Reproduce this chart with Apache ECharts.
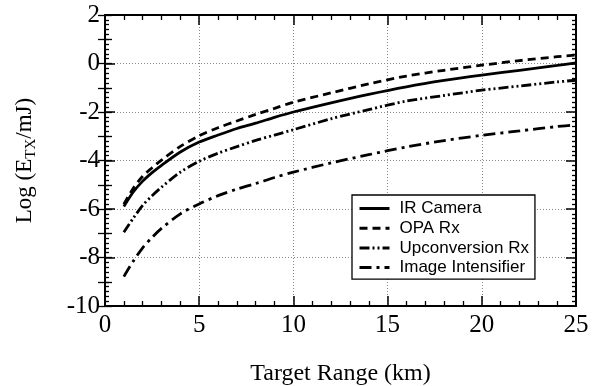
<!DOCTYPE html>
<html>
<head>
<meta charset="utf-8">
<script src="https://cdn.jsdelivr.net/npm/echarts@6/dist/echarts.min.js"></script>
<style>
  html, body { margin: 0; padding: 0; background: #fff; }
  #chart { width: 594px; height: 386px; }
</style>
</head>
<body>
<div id="chart"></div>
<script>
// target range (km)
const rangeKm = [1, 1.5, 2, 2.5, 3, 4, 5, 6, 7, 8, 9, 10, 12, 14, 16, 18, 20, 22, 24, 25];

// log(E_TX / mJ)
const irCamera = [-5.9, -5.3, -4.85, -4.5, -4.2, -3.65, -3.24, -2.95, -2.68, -2.46, -2.22, -2.0, -1.62, -1.27, -0.96, -0.70, -0.48, -0.28, -0.08, 0.03];
const opaRx = [-5.8, -5.15, -4.65, -4.3, -3.98, -3.42, -2.98, -2.65, -2.37, -2.10, -1.85, -1.6, -1.21, -0.84, -0.52, -0.28, -0.07, 0.12, 0.28, 0.35];
const upconvRx = [-6.96, -6.38, -5.85, -5.45, -5.1, -4.48, -4.03, -3.7, -3.43, -3.17, -2.95, -2.73, -2.28, -1.9, -1.55, -1.32, -1.10, -0.93, -0.76, -0.69];
const imageIntens = [-8.79, -8.15, -7.6, -7.17, -6.8, -6.2, -5.79, -5.45, -5.18, -4.95, -4.7, -4.48, -4.1, -3.76, -3.44, -3.18, -2.96, -2.78, -2.6, -2.53];

const seriesNames = ['IR Camera', 'OPA Rx', 'Upconversion Rx', 'Image Intensifier'];
const dashes = ['solid', [8, 5], [10, 3, 2, 3, 2, 3], [12, 5, 3, 5]];

const chart = echarts.init(document.getElementById('chart'), null, { renderer: 'canvas' });

const serif = 'Liberation Serif, Times New Roman, serif';
const gridDot = { show: true, lineStyle: { color: '#888', width: 1, type: [1, 2] } };

function pairs(ys) {
    return rangeKm.map((x, i) => [x, ys[i]]);
}

const mkLine = (ys, i) => ({
    name: seriesNames[i],
    type: 'line',
    xAxisIndex: 0,
    yAxisIndex: 0,
    data: pairs(ys),
    smooth: 0.3,
    symbol: 'none',
    lineStyle: { color: '#000', width: 2.8, type: dashes[i] },
    itemStyle: { color: '#000' },
    z: 5
});

const option = {
    backgroundColor: '#fff',
    animation: false,
    grid: { left: 105, right: 18, top: 15, bottom: 80, outerBoundsMode: 'none' },
    legend: {
        orient: 'vertical',
        left: 352,
        top: 195,
        width: 185,
        padding: [5, 6, 3, 6],
        itemWidth: 30,
        itemHeight: 10,
        itemGap: 2.7,
        borderColor: '#000',
        borderWidth: 1.3,
        backgroundColor: '#fff',
        itemStyle: { opacity: 0 },
        lineStyle: { width: 3 },
        textStyle: { fontFamily: 'Liberation Sans, Arial, sans-serif', fontSize: 17, color: '#000', lineHeight: 16, padding: [0, 0, 0, 5] },
        data: seriesNames
    },
    xAxis: [
        {
            type: 'value', min: 0, max: 25, interval: 5,
            name: 'Target Range (km)', nameLocation: 'middle', nameGap: 56,
            nameTextStyle: { fontFamily: serif, fontSize: 24, color: '#000' },
            axisLine: { onZero: false, lineStyle: { color: '#000', width: 2 } },
            axisTick: { inside: true, length: 10, lineStyle: { color: '#000', width: 1.5 } },
            minorTick: { show: true, splitNumber: 5, length: 5, lineStyle: { color: '#000', width: 1.3 } },
            axisLabel: { fontFamily: serif, fontSize: 25, color: '#000', margin: 7 },
            splitLine: gridDot
        },
        {
            type: 'value', min: 0, max: 25, interval: 5, position: 'top',
            axisLine: { onZero: false, lineStyle: { color: '#000', width: 2 } },
            axisTick: { inside: true, length: 10, lineStyle: { color: '#000', width: 1.5 } },
            minorTick: { show: true, splitNumber: 5, length: 5, lineStyle: { color: '#000', width: 1.3 } },
            axisLabel: { show: false },
            splitLine: { show: false }
        }
    ],
    yAxis: [
        {
            type: 'value', min: -10, max: 2, interval: 2,
            name: '{a|Log (E}{s|TX}{a|/mJ)}', nameLocation: 'middle', nameGap: 66, nameRotate: 90,
            nameTextStyle: {
                color: '#000',
                rich: {
                    a: { fontFamily: serif, fontSize: 23, color: '#000', lineHeight: 28, verticalAlign: 'middle' },
                    s: { fontFamily: serif, fontSize: 15, color: '#000', lineHeight: 15, verticalAlign: 'bottom' }
                }
            },
            axisLine: { onZero: false, lineStyle: { color: '#000', width: 2 } },
            axisTick: { inside: true, length: 10, lineStyle: { color: '#000', width: 1.5 } },
            minorTick: { show: true, splitNumber: 10, length: 4, lineStyle: { color: '#000', width: 1.3 } },
            axisLabel: { fontFamily: serif, fontSize: 25, color: '#000', margin: 5 },
            splitLine: gridDot
        },
        {
            type: 'value', min: -10, max: 2, interval: 2, position: 'right',
            axisLine: { onZero: false, lineStyle: { color: '#000', width: 2 } },
            axisTick: { inside: true, length: 10, lineStyle: { color: '#000', width: 1.5 } },
            minorTick: { show: true, splitNumber: 10, length: 4, lineStyle: { color: '#000', width: 1.3 } },
            axisLabel: { show: false },
            splitLine: { show: false }
        },
        {
            // medium ticks at odd values, left
            type: 'value', min: -10, max: 2, interval: 1, position: 'left',
            axisLine: { show: false },
            axisTick: { inside: true, length: 7, lineStyle: { color: '#000', width: 1.3 } },
            axisLabel: { show: false },
            splitLine: { show: false }
        },
        {
            type: 'value', min: -10, max: 2, interval: 1, position: 'right',
            axisLine: { show: false },
            axisTick: { inside: true, length: 7, lineStyle: { color: '#000', width: 1.3 } },
            axisLabel: { show: false },
            splitLine: { show: false }
        }
    ],
    series: [irCamera, opaRx, upconvRx, imageIntens].map(mkLine)
};

chart.setOption(option);
</script>
</body>
</html>
